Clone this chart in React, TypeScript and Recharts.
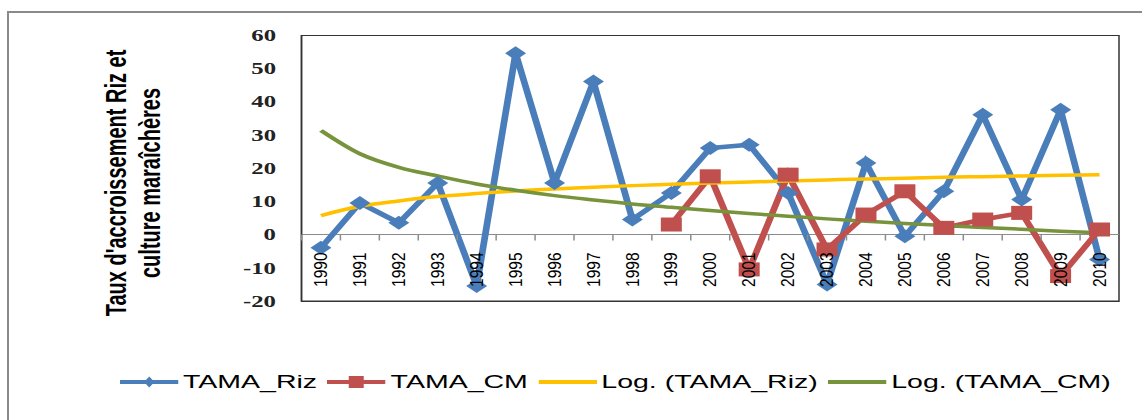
import React from "react";
import { LineChart, Line, XAxis, YAxis, ReferenceLine } from "recharts";

const YEARS = ["1990", "1991", "1992", "1993", "1994", "1995", "1996", "1997", "1998", "1999", "2000", "2001", "2002", "2003", "2004", "2005", "2006", "2007", "2008", "2009", "2010"];
const TAMA_RIZ = [-4, 9.5, 3.5, 15.5, -15.5, 54.5, 15.5, 46, 4.5, 12.5, 26, 27, 12.5, -15, 21.5, -0.5, 13, 36, 10.5, 37.5, -7.5];
const TAMA_CM = [null, null, null, null, null, null, null, null, null, 3, 17.5, -10.5, 18, -4.5, 6, 13, 2, 4.5, 6.5, -12.5, 1.5];
const LOG_RIZ = [5.7, 8.5, 10.1, 11.4, 12.3, 13.1, 13.7, 14.2, 14.7, 15.1, 15.5, 15.8, 16.1, 16.4, 16.7, 16.9, 17.2, 17.4, 17.6, 17.8, 18.0];
const LOG_CM = [31.3, 24.3, 20.2, 17.6, 15.2, 13.3, 11.7, 10.4, 9.2, 8.2, 7.2, 6.3, 5.5, 4.7, 4.0, 3.3, 2.7, 2.1, 1.6, 1.0, 0.5];
const Y_TICKS = [-20, -10, 0, 10, 20, 30, 40, 50, 60];

const data = YEARS.map((year, i) => ({
  year,
  riz: TAMA_RIZ[i],
  cm: TAMA_CM[i],
  logRiz: LOG_RIZ[i],
  logCm: LOG_CM[i],
}));

const BLUE = "#4a7ebb";
const RED = "#c0504d";
const YELLOW = "#ffc000";
const GREEN = "#77933c";

// the source picture is stretched sideways, so the chart is drawn narrow and scaled
const STRETCH = 1.5;
const CHART_W = 761;
const CHART_H = 420;
const MARGIN = { top: 35, right: 15, bottom: 89, left: 141 };
const Y_AXIS_W = 60;
const X_AXIS_H = 30;
const PLOT_X = MARGIN.left + Y_AXIS_W;
const PLOT_W = CHART_W - MARGIN.left - MARGIN.right - Y_AXIS_W;
const PLOT_H = CHART_H - MARGIN.top - MARGIN.bottom - X_AXIS_H;
const BAND = PLOT_W / YEARS.length;
const Y_MIN = -20;
const Y_MAX = 60;
const ZERO_Y = MARGIN.top + (Y_MAX / (Y_MAX - Y_MIN)) * PLOT_H;

const font = "'Liberation Sans', Arial, sans-serif";

function Diamond(props: any) {
  const { cx, cy, index } = props;
  if (cx == null || cy == null || props.value == null) return <g key={index} />;
  return <path key={index} d={`M${cx},${cy - 7} L${cx + 7},${cy} L${cx},${cy + 7} L${cx - 7},${cy} Z`} fill={BLUE} />;
}

function Square(props: any) {
  const { cx, cy, index } = props;
  if (cx == null || cy == null || props.value == null) return <g key={index} />;
  return <rect key={index} x={cx - 7} y={cy - 7} width={14} height={14} fill={RED} />;
}

function YearTick(props: any) {
  const { x, payload } = props;
  return (
    <g>
      <line x1={x - BAND / 2} x2={x - BAND / 2} y1={ZERO_Y} y2={ZERO_Y + 6} stroke="#8c8c8c" strokeWidth={1} />
      <text
        transform={`translate(${x},${ZERO_Y + 18}) rotate(-90) scale(1,0.75)`}
        textAnchor="end"
        dy="0.35em"
        fontFamily={font}
        fontSize={15.5}
        fill="#000"
      >
        {payload.value}
      </text>
    </g>
  );
}

const LEGEND = [
  { name: "TAMA_Riz", color: BLUE, marker: "diamond" },
  { name: "TAMA_CM", color: RED, marker: "square" },
  { name: "Log. (TAMA_Riz)", color: YELLOW, marker: "none" },
  { name: "Log. (TAMA_CM)", color: GREEN, marker: "none" },
];

function LegendBox() {
  return (
    <div style={{ position: "absolute", left: 80, top: 370, height: 24, display: "flex", alignItems: "center" }}>
      {LEGEND.map((item) => (
        <div key={item.name} style={{ display: "flex", alignItems: "center", marginRight: 7 }}>
          <svg width={39} height={20}>
            <line x1={0} x2={39} y1={10} y2={10} stroke={item.color} strokeWidth={4} />
            {item.marker === "diamond" && <path d="M19.5,4.5 L23,10 L19.5,15.5 L16,10 Z" fill={item.color} />}
            {item.marker === "square" && <rect x={14.5} y={4} width={10} height={12} fill={item.color} />}
          </svg>
          <span style={{ fontFamily: font, fontSize: 19, color: "#000", marginLeft: 3, lineHeight: "24px" }}>{item.name}</span>
        </div>
      ))}
    </div>
  );
}

export default function App() {
  return (
    <div style={{ position: "fixed", left: 0, top: 0, width: 1142, height: 420, overflow: "hidden", background: "#fff" }}>
      <div
        style={{
          position: "absolute",
          left: 7,
          top: 11,
          width: 1200,
          height: 500,
          borderTop: "2px solid #8a8a8a",
          borderLeft: "2px solid #8a8a8a",
        }}
      />
      <div
        style={{
          position: "absolute",
          left: 0,
          top: 0,
          width: CHART_W,
          height: CHART_H,
          transform: `scaleX(${STRETCH})`,
          transformOrigin: "0 0",
        }}
      >
        <svg width={CHART_W} height={CHART_H} style={{ position: "absolute", left: 0, top: 0 }}>
          {/* plot area frame */}
          <rect x={PLOT_X} y={MARGIN.top + 0.5} width={PLOT_W} height={PLOT_H} fill="none" stroke="#333" strokeWidth={1} />
          <text transform="translate(84,183) rotate(-90)" textAnchor="middle" fontFamily={font} fontWeight="bold" fontSize={20} fill="#000">
            Taux d'accroissement  Riz et
          </text>
          <text transform="translate(106.7,183) rotate(-90)" textAnchor="middle" fontFamily={font} fontWeight="bold" fontSize={20} fill="#000">
            culture maraîchères
          </text>
        </svg>
        <div style={{ position: "absolute", left: 0, top: 0 }}>
          <LineChart width={CHART_W} height={CHART_H} data={data} margin={MARGIN}>
            <XAxis
              dataKey="year"
              interval={0}
              height={X_AXIS_H}
              padding={{ left: BAND / 2, right: BAND / 2 }}
              axisLine={{ stroke: "#333", strokeWidth: 1 }}
              tickLine={false}
              tick={<YearTick />}
            />
            <YAxis
              domain={[Y_MIN, Y_MAX]}
              ticks={Y_TICKS}
              interval={0}
              width={Y_AXIS_W}
              tickLine={false}
              tickSize={6}
              tickMargin={11}
              axisLine={{ stroke: "#333", strokeWidth: 1 }}
              tick={{ fontFamily: "'Liberation Serif', 'Times New Roman', serif", fontWeight: "bold", fontSize: 16.5, fill: "#222" }}
            />
            <ReferenceLine y={0} stroke="#8c8c8c" strokeWidth={1} />
            <Line type="linear" dataKey="riz" stroke={BLUE} strokeWidth={4.5} dot={<Diamond />} isAnimationActive={false} />
            <Line type="linear" dataKey="cm" stroke={RED} strokeWidth={4.5} dot={<Square />} isAnimationActive={false} />
            <Line type="monotone" dataKey="logRiz" stroke={YELLOW} strokeWidth={3.5} dot={false} isAnimationActive={false} />
            <Line type="monotone" dataKey="logCm" stroke={GREEN} strokeWidth={3.5} dot={false} isAnimationActive={false} />
          </LineChart>
        </div>
        <LegendBox />
      </div>
    </div>
  );
}
